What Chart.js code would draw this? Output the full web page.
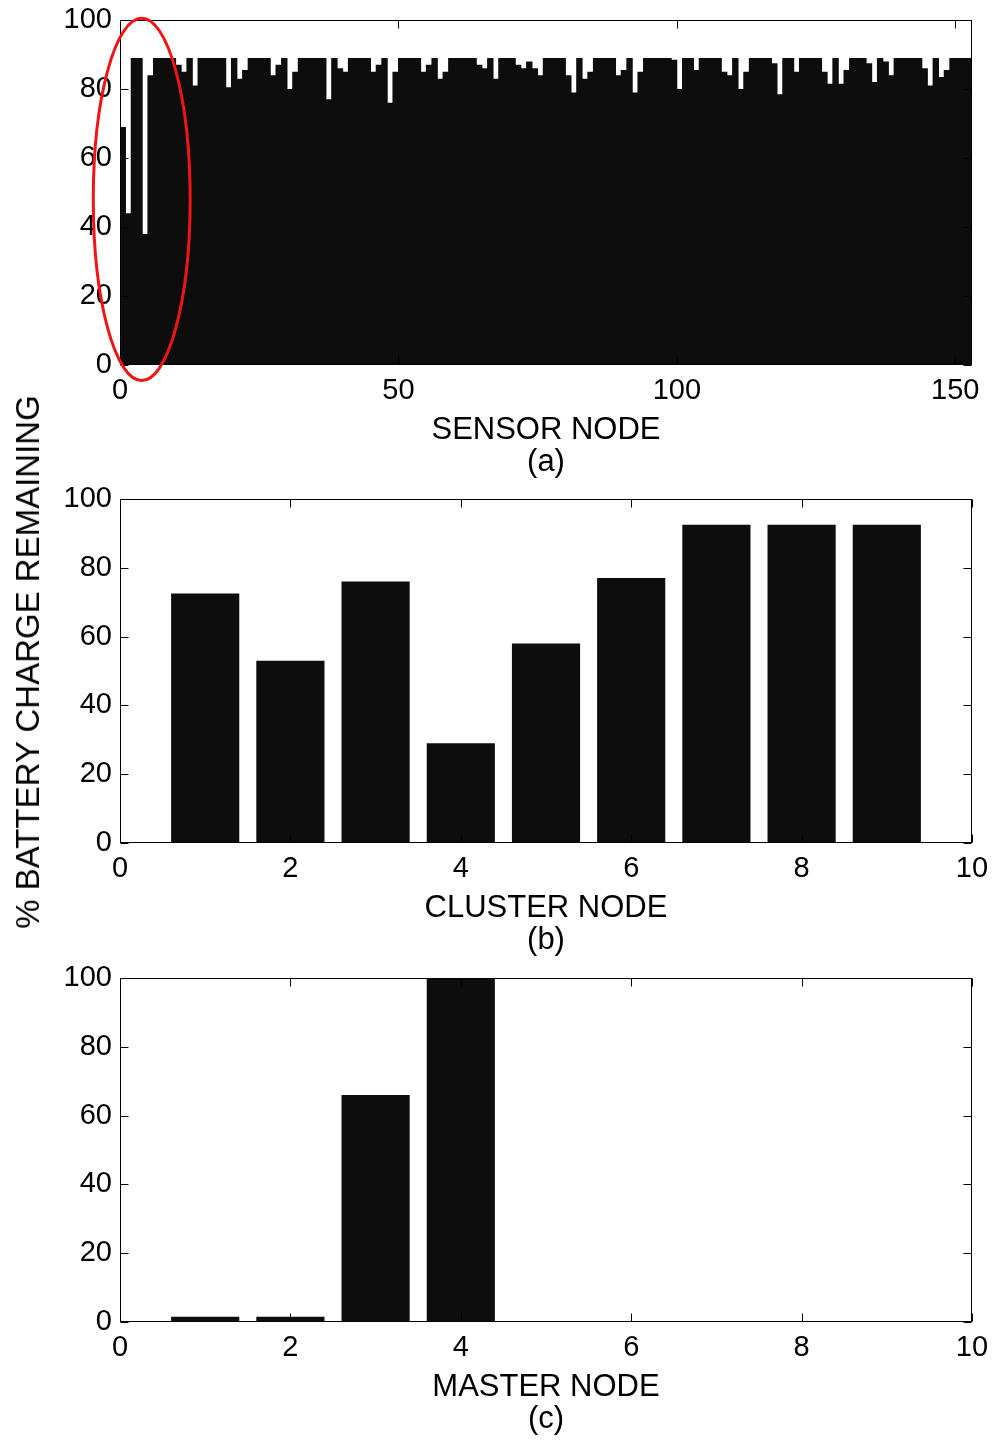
<!DOCTYPE html>
<html>
<head>
<meta charset="utf-8">
<title>Battery charge remaining</title>
<script src="https://cdn.jsdelivr.net/npm/chart.js@4.4.1/dist/chart.umd.min.js"></script>
<style>
  body { margin: 0; background: #fff; }
  #page { position: relative; width: 992px; height: 1441px; overflow: hidden; }
  canvas { position: absolute; left: 0; }
  #ylabel {
    position: absolute; left: 28px; top: 662px;
    transform: translate(-50%, -50%) rotate(-90deg);
    font: 33px 'Liberation Sans', Arial, sans-serif;
    white-space: nowrap; color: #000;
  }
</style>
</head>
<body>
<div id="page">
  <canvas id="chart-sensor" width="992" height="480" style="top:0px"></canvas>
  <canvas id="chart-cluster" width="992" height="479" style="top:479px"></canvas>
  <canvas id="chart-master" width="992" height="479" style="top:958px"></canvas>
  <div id="ylabel">% BATTERY CHARGE REMAINING</div>
</div>
<script>
// ---- data ----
// (a) sensor nodes 1..153, % charge left
const sensorCharge = [
  69, 44, 89, 89, 38, 84, 89, 89, 89, 89,
  87, 85, 89, 81, 89, 89, 89, 89, 89, 80.5,
  89, 83, 85.5, 89, 89, 89, 89, 84, 87, 89,
  80, 85, 89, 89, 89, 89, 89, 77, 89, 86,
  85, 89, 89, 89, 89, 85, 87, 89, 76, 85,
  89, 89, 89, 89, 85, 87, 89, 83, 85, 89,
  89, 89, 89, 89, 87, 86, 89, 83, 89, 89,
  89, 87, 86, 88, 86, 84, 89, 89, 89, 89,
  84, 79, 89, 83, 85, 89, 89, 89, 89, 84,
  85.5, 89, 79, 85, 89, 89, 89, 89, 89, 88.5,
  80, 89, 89, 85.5, 89, 89, 89, 89, 85, 84,
  89, 80, 85, 89, 89, 89, 89, 87.5, 78.5, 89,
  89, 85, 89, 89, 89, 89, 85, 81.5, 89, 81.5,
  85.5, 89, 89, 89, 87.5, 82, 89, 88, 84, 89,
  89, 89, 89, 89, 86, 81, 89, 83.5, 85.5, 89,
  89, 89, 89
];

// (b) cluster nodes
const clusterNodes = [1, 2, 3, 4, 5, 6, 7, 8, 9];
const clusterCharge = [72.5, 53, 76, 29, 58, 77, 92.5, 92.5, 92.5];

// (c) master nodes
const masterNodes = [1, 2, 3, 4];
const masterCharge = [1.5, 1.5, 66, 100];

// axis text
const xTitles = ['SENSOR NODE', 'CLUSTER NODE', 'MASTER NODE'];
const panelTags = ['(a)', '(b)', '(c)'];

// red ring round the first few sensors (data units)
const ringCenter = { x: 3.9, y: 48 };
const ringRadius = { x: 8.7, y: 52.5 };

const barColor = '#0d0d0d';

Chart.defaults.font.family = "'Liberation Sans', Arial, sans-serif";
Chart.defaults.color = '#000';

// box round the plot, inward ticks on all 4 sides, optional ellipse
const boxTicks = {
  id: 'boxTicks',
  afterDraw(chart, args, opts) {
    const { ctx, chartArea: a, scales } = chart;
    const x = scales.x, y = scales.y;
    const L = Math.round(a.left) + 0.5, R = Math.round(a.right) - 0.5;
    const T = Math.round(a.top) + 0.5, B = Math.round(a.bottom) - 0.5;
    const len = 8;
    ctx.save();
    ctx.strokeStyle = '#000';
    ctx.lineWidth = 1;
    ctx.beginPath();
    x.ticks.forEach(t => {
      const px = Math.round(x.getPixelForValue(t.value)) + 0.5;
      ctx.moveTo(px, B); ctx.lineTo(px, B - len);
      ctx.moveTo(px, T); ctx.lineTo(px, T + len);
    });
    y.ticks.forEach(t => {
      const py = Math.round(y.getPixelForValue(t.value)) + 0.5;
      ctx.moveTo(L, py); ctx.lineTo(L + len, py);
      ctx.moveTo(R, py); ctx.lineTo(R - len, py);
    });
    ctx.stroke();
    ctx.strokeRect(L, T, R - L, B - T);

    if (opts.ring) {
      const cx = x.getPixelForValue(ringCenter.x);
      const cy = y.getPixelForValue(ringCenter.y);
      const rx = Math.abs(x.getPixelForValue(ringCenter.x + ringRadius.x) - cx);
      const ry = Math.abs(y.getPixelForValue(ringCenter.y + ringRadius.y) - cy);
      ctx.strokeStyle = 'rgb(240,20,20)';
      ctx.lineWidth = 3;
      ctx.beginPath();
      ctx.ellipse(cx, cy, rx, ry, 0, 0, Math.PI * 2);
      ctx.stroke();
    }
    ctx.restore();
  }
};

function makeChart(id, points, cfg) {
  return new Chart(document.getElementById(id), {
    type: 'bar',
    data: {
      datasets: [{
        data: points,
        backgroundColor: barColor,
        borderWidth: 0,
        barPercentage: cfg.barPct,
        categoryPercentage: 1
      }]
    },
    options: {
      responsive: false,
      animation: false,
      layout: { padding: { top: 20, right: 20, left: 0, bottom: 0 } },
      plugins: {
        legend: { display: false },
        tooltip: { enabled: false },
        boxTicks: { ring: cfg.ring }
      },
      scales: {
        x: {
          type: 'linear',
          offset: false,
          min: 0,
          max: cfg.xMax,
          grid: { display: false, drawTicks: false, offset: false },
          border: { display: false },
          ticks: {
            stepSize: cfg.xStep,
            includeBounds: false,
            autoSkip: false,
            maxRotation: 0,
            padding: 9,
            font: { size: 29 }
          },
          title: {
            display: true,
            text: [cfg.title, cfg.tag],
            font: { size: 31, lineHeight: 1.03 },
            padding: { top: 0, bottom: 2 }
          },
          // fixed axis box; no extra room for the end labels
          afterFit: s => { s.height = 115; s.paddingLeft = 0; s.paddingRight = 0; }
        },
        y: {
          min: 0,
          max: 100,
          grid: { display: false, drawTicks: false },
          border: { display: false },
          ticks: { stepSize: 20, padding: 8, font: { size: 29 } },
          afterFit: s => { s.width = 120; s.paddingTop = 0; s.paddingBottom = 0; }
        }
      }
    },
    plugins: [boxTicks]
  });
}

// bars of (a) are 1 unit wide and sit between node-1 and node
const sensorPoints = sensorCharge.map((v, i) => ({ x: i + 0.5, y: v }));
const clusterPoints = clusterNodes.map((n, i) => ({ x: n, y: clusterCharge[i] }));
const masterPoints = masterNodes.map((n, i) => ({ x: n, y: masterCharge[i] }));

makeChart('chart-sensor', sensorPoints, {
  xMax: 153, xStep: 50, barPct: 1.15, title: xTitles[0], tag: panelTags[0], ring: true
});
makeChart('chart-cluster', clusterPoints, {
  xMax: 10, xStep: 2, barPct: 0.8, title: xTitles[1], tag: panelTags[1], ring: false
});
makeChart('chart-master', masterPoints, {
  xMax: 10, xStep: 2, barPct: 0.8, title: xTitles[2], tag: panelTags[2], ring: false
});
</script>
</body>
</html>
